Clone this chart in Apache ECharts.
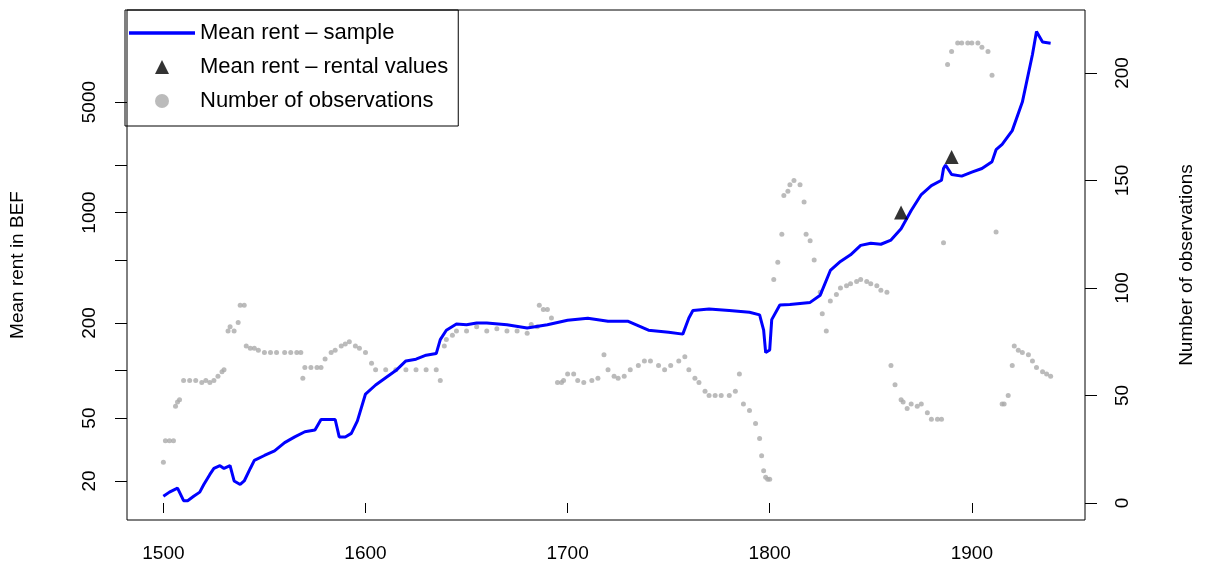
<!DOCTYPE html>
<html>
<head>
<meta charset="utf-8" />
<script src="https://cdn.jsdelivr.net/npm/echarts@6/dist/echarts.min.js"></script>
<style>html,body{margin:0;padding:0;background:#fff}#main{width:1215px;height:581px}</style>
</head>
<body>
<div id="main"></div>
<script>
// mean rent (sample), years and BEF values
var rentYears = [1500,1503,1507,1510,1512,1515,1518,1520,1523,1525,1528,1530,1533,1535,1538,1540,1543,1545,1550,1555,1560,1565,1570,1575,1578,1582,1585,1587,1590,1593,1596,1600,1605,1610,1615,1620,1625,1630,1635,1637,1640,1645,1650,1655,1660,1670,1680,1690,1700,1710,1720,1730,1740,1750,1757,1760,1762,1770,1780,1790,1795,1797,1798,1800,1801,1805,1810,1820,1825,1830,1835,1840,1845,1850,1855,1860,1865,1870,1875,1880,1885,1886,1887,1890,1895,1900,1905,1910,1912,1915,1920,1925,1930,1932,1935,1939];
var rentValues = [16,17,18,15,15,16,17,19,22,24,25,24,25,20,19,20,24,27,29,31,35,38,41,42,49,49,49,38,38,40,48,71,81,90,100,115,118,125,128,157,180,197,195,200,200,195,186,195,208,214,205,205,180,175,170,215,240,245,240,234,225,180,130,135,210,260,262,270,300,430,490,540,620,640,630,670,790,1030,1300,1480,1600,1900,2000,1740,1700,1800,1900,2100,2500,2700,3300,5000,10000,14000,12000,11800];
// mean rent from rental values
var rentalYears = [1865, 1890];
var rentalValues = [1000, 2250];
// number of observations
var obsYears = [1500,1501,1503,1505,1506,1507,1508,1510,1513,1516,1519,1521,1523,1525,1527,1529,1530,1532,1533,1535,1537,1538,1540,1541,1543,1545,1547,1550,1553,1556,1560,1563,1566,1568,1569,1570,1573,1576,1578,1580,1583,1585,1588,1590,1592,1595,1597,1600,1603,1605,1610,1615,1620,1625,1630,1635,1637,1639,1640,1643,1645,1650,1655,1660,1665,1670,1675,1680,1682,1685,1686,1688,1690,1692,1695,1697,1698,1700,1703,1705,1708,1712,1715,1718,1720,1723,1725,1728,1731,1735,1738,1741,1745,1748,1751,1755,1758,1760,1763,1765,1768,1770,1773,1776,1780,1783,1785,1787,1790,1793,1795,1796,1797,1798,1799,1800,1802,1804,1806,1807,1809,1810,1812,1815,1817,1818,1820,1822,1825,1826,1828,1830,1833,1835,1838,1840,1843,1845,1848,1850,1853,1855,1858,1860,1862,1865,1866,1868,1870,1873,1875,1878,1880,1883,1885,1886,1888,1890,1893,1895,1898,1900,1903,1905,1908,1910,1912,1915,1916,1918,1920,1921,1923,1925,1928,1930,1932,1935,1937,1939];
var obsValues = [19,29,29,29,45,47,48,57,57,57,56,57,56,57,59,61,62,80,82,80,84,92,92,73,72,72,71,70,70,70,70,70,70,70,58,63,63,63,63,67,70,71,73,74,75,73,72,70,65,62,62,62,62,62,62,62,57,73,76,78,80,80,82,80,81,80,80,79,83,82,92,90,90,86,56,56,57,60,60,57,56,57,58,69,62,59,58,59,62,64,66,66,64,62,64,66,68,62,58,56,52,50,50,50,50,52,60,46,43,37,30,22,15,12,11,11,104,112,125,143,145,148,150,148,140,125,122,113,98,88,80,94,97,100,101,102,103,104,103,102,101,99,98,64,55,48,47,44,46,45,46,42,39,39,39,121,204,210,214,214,214,214,214,212,210,199,126,46,46,50,64,73,71,70,69,66,63,61,60,59];

var sampleData = rentYears.map(function(y,i){return [y, Math.log10(rentValues[i])];});
var rentalData = rentalYears.map(function(y,i){return [y, Math.log10(rentalValues[i])];});
var obsData = obsYears.map(function(y,i){return [y, obsValues[i]];});

var logTicks = [20,50,100,200,500,1000,2000,5000].map(function(v){return Math.log10(v);});
var logLabels = [20,50,200,1000,5000].map(function(v){return Math.log10(v);});
var fontTxt = {color:'#000', fontSize:19, fontFamily:'Liberation Sans, Arial, sans-serif'};

var chart = echarts.init(document.getElementById('main'));
chart.setOption({
	animation: false,
	grid: {left:125, right:130, top:10, bottom:61, show:true, borderColor:'#000', borderWidth:1},
	legend: {
		orient:'vertical', left:125, top:10, itemGap:12, padding:[12,10,14,4],
		borderColor:'#000', borderWidth:1, borderRadius:0,
		itemWidth:66, itemHeight:14,
		textStyle: {color:'#000', fontSize:22, fontFamily:'Liberation Sans, Arial, sans-serif'},
		data:[
			{name:'Mean rent – sample', icon:'path://M0,0H55V3H0Z', itemStyle:{color:'#0000ff'}},
			{name:'Mean rent – rental values', icon:'path://M27,0L33,12H21Z', itemStyle:{color:'#000'}},
			{name:'Number of observations', icon:'path://M27,0A4,4,0,1,1,27,8A4,4,0,1,1,27,0Z', itemStyle:{color:'#aaaaaa'}}
		]
	},
	xAxis: {
		type:'value', min:1482, max:1956,
		splitLine:{show:false},
		axisLine:{show:false},
		axisTick:{show:true, length:10, lineStyle:{color:'#000'}, customValues:[1500,1600,1700,1800,1900]},
		axisLabel:Object.assign({margin:24, customValues:[1500,1600,1700,1800,1900],
			formatter:function(v){return String(v);}}, fontTxt)
	},
	yAxis: [{
		type:'value', min:1.054, max:4.282,
		name:'Mean rent in BEF', nameLocation:'middle', nameGap:100, nameRotate:90,
		nameTextStyle: fontTxt,
		splitLine:{show:false}, axisLine:{show:false},
		axisTick:{show:true, length:12, lineStyle:{color:'#000'}, customValues:logTicks},
		axisLabel:Object.assign({rotate:90, margin:28, customValues:logLabels,
			formatter:function(v){return String(Math.round(Math.pow(10,v)));}}, fontTxt)
	},{
		type:'value', min:-7.9, max:229.3,
		name:'Number of observations', nameLocation:'middle', nameGap:92, nameRotate:90,
		nameTextStyle: fontTxt,
		splitLine:{show:false}, axisLine:{show:false},
		axisTick:{show:true, length:12, lineStyle:{color:'#000'}, customValues:[0,50,100,150,200]},
		axisLabel:Object.assign({rotate:90, margin:28, customValues:[0,50,100,150,200]}, fontTxt)
	}],
	series: [{
		name:'Number of observations', type:'scatter', yAxisIndex:1,
		symbol:'circle', symbolSize:5, itemStyle:{color:'#aaaaaa'},
		data: obsData, z:1
	},{
		name:'Mean rent – sample', type:'line', yAxisIndex:0,
		showSymbol:false, lineStyle:{color:'#0000ff', width:3}, itemStyle:{color:'#0000ff'},
		data: sampleData, z:2
	},{
		name:'Mean rent – rental values', type:'scatter', yAxisIndex:0,
		symbol:'triangle', symbolSize:14, itemStyle:{color:'#000'},
		data: rentalData, z:3
	}]
});
</script>
</body>
</html>
